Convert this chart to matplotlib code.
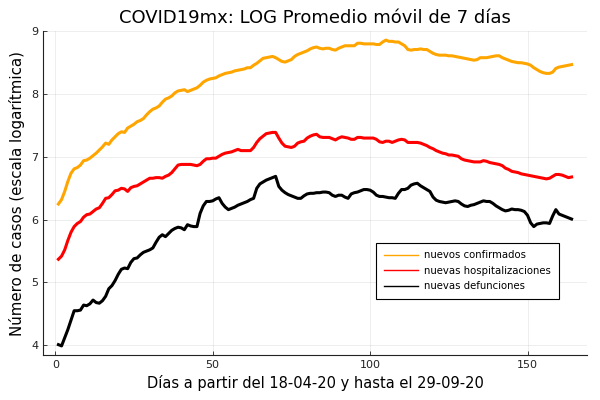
import matplotlib
matplotlib.use("Agg")
import matplotlib.pyplot as plt
from matplotlib.lines import Line2D

dias = list(range(1, 165))

confirmados = [
    6.25, 6.32, 6.45, 6.61, 6.74, 6.81, 6.83, 6.87, 6.94, 6.95,
    6.98, 7.02, 7.06, 7.11, 7.16, 7.22, 7.20, 7.27, 7.32, 7.37,
    7.40, 7.39, 7.46, 7.49, 7.52, 7.56, 7.58, 7.61, 7.67, 7.72,
    7.76, 7.78, 7.81, 7.87, 7.92, 7.94, 7.97, 8.02, 8.05, 8.06,
    8.07, 8.04, 8.06, 8.08, 8.10, 8.14, 8.19, 8.22, 8.24, 8.25,
    8.26, 8.29, 8.31, 8.33, 8.34, 8.35, 8.37, 8.38, 8.39, 8.40,
    8.42, 8.42, 8.46, 8.49, 8.53, 8.57, 8.58, 8.59, 8.60, 8.58,
    8.55, 8.52, 8.51, 8.53, 8.55, 8.60, 8.63, 8.65, 8.67, 8.69,
    8.72, 8.74, 8.75, 8.73, 8.72, 8.73, 8.73, 8.71, 8.70, 8.73,
    8.75, 8.77, 8.77, 8.77, 8.77, 8.81, 8.81, 8.80, 8.80, 8.80,
    8.80, 8.79, 8.79, 8.83, 8.86, 8.84, 8.84, 8.83, 8.83, 8.80,
    8.77, 8.71, 8.70, 8.71, 8.71, 8.72, 8.71, 8.71, 8.68, 8.65,
    8.63, 8.62, 8.62, 8.62, 8.61, 8.61, 8.60, 8.59, 8.58, 8.57,
    8.56, 8.55, 8.54, 8.55, 8.58, 8.58, 8.58, 8.59, 8.60, 8.61,
    8.61, 8.58, 8.56, 8.54, 8.52, 8.51, 8.50, 8.50, 8.49, 8.48,
    8.46, 8.42, 8.39, 8.36, 8.34, 8.33, 8.33, 8.35, 8.41, 8.43,
    8.44, 8.45, 8.46, 8.47,
]

hospitalizaciones = [
    5.37, 5.42, 5.52, 5.67, 5.80, 5.89, 5.94, 5.97, 6.04, 6.08,
    6.09, 6.13, 6.17, 6.19, 6.26, 6.34, 6.35, 6.40, 6.46, 6.47,
    6.50, 6.49, 6.45, 6.51, 6.53, 6.54, 6.57, 6.60, 6.63, 6.66,
    6.66, 6.67, 6.67, 6.66, 6.69, 6.71, 6.75, 6.81, 6.87, 6.88,
    6.88, 6.88, 6.88, 6.87, 6.86, 6.88, 6.93, 6.97, 6.97, 6.98,
    6.98, 7.01, 7.04, 7.06, 7.07, 7.08, 7.10, 7.12, 7.10, 7.10,
    7.10, 7.10, 7.15, 7.23, 7.29, 7.33, 7.37, 7.38, 7.39, 7.39,
    7.30, 7.22, 7.17, 7.16, 7.15, 7.17, 7.22, 7.24, 7.25, 7.30,
    7.33, 7.35, 7.36, 7.32, 7.31, 7.31, 7.31, 7.29, 7.27, 7.30,
    7.32, 7.31, 7.30, 7.28, 7.28, 7.31, 7.31, 7.30, 7.30, 7.30,
    7.30, 7.28, 7.24, 7.23, 7.25, 7.25, 7.23, 7.25, 7.27, 7.28,
    7.27, 7.23, 7.23, 7.23, 7.23, 7.22, 7.20, 7.18, 7.15, 7.13,
    7.10, 7.08, 7.06, 7.05, 7.03, 7.03, 7.02, 7.01, 6.97, 6.95,
    6.94, 6.93, 6.92, 6.92, 6.92, 6.94, 6.93, 6.91, 6.90, 6.89,
    6.88, 6.86, 6.82, 6.80, 6.77, 6.76, 6.75, 6.73, 6.72, 6.71,
    6.70, 6.69, 6.68, 6.67, 6.66, 6.65, 6.66, 6.69, 6.72, 6.72,
    6.71, 6.69, 6.67, 6.68,
]

defunciones = [
    4.01, 3.99, 4.12, 4.25, 4.40, 4.55, 4.55, 4.56, 4.64, 4.63,
    4.66, 4.72, 4.68, 4.67, 4.71, 4.78, 4.90, 4.95, 5.03, 5.13,
    5.21, 5.23, 5.22, 5.32, 5.38, 5.39, 5.44, 5.48, 5.50, 5.52,
    5.55, 5.64, 5.72, 5.76, 5.73, 5.78, 5.83, 5.86, 5.88, 5.87,
    5.84, 5.92, 5.90, 5.89, 5.89, 6.10, 6.22, 6.29, 6.29, 6.30,
    6.33, 6.35, 6.26, 6.20, 6.16, 6.18, 6.20, 6.23, 6.25, 6.27,
    6.29, 6.32, 6.34, 6.50, 6.57, 6.60, 6.63, 6.65, 6.67, 6.69,
    6.53, 6.47, 6.43, 6.40, 6.38, 6.36, 6.34, 6.34, 6.38, 6.41,
    6.42, 6.42, 6.43, 6.43, 6.44, 6.44, 6.43, 6.39, 6.37, 6.39,
    6.39, 6.36, 6.34, 6.41, 6.43, 6.44, 6.46, 6.48, 6.48, 6.47,
    6.44, 6.39, 6.37, 6.37, 6.36, 6.35, 6.35, 6.34, 6.42, 6.48,
    6.48, 6.50, 6.55, 6.57, 6.58, 6.54, 6.51, 6.48, 6.45, 6.36,
    6.31, 6.29, 6.28, 6.27, 6.28, 6.29, 6.30, 6.29, 6.25, 6.22,
    6.21, 6.23, 6.24, 6.26, 6.28, 6.30, 6.29, 6.29, 6.26, 6.22,
    6.19, 6.16, 6.14, 6.15, 6.17, 6.16, 6.16, 6.15, 6.13, 6.07,
    5.95, 5.89, 5.93, 5.94, 5.95, 5.95, 5.94, 6.06, 6.16, 6.09,
    6.07, 6.05, 6.03, 6.01,
]

series_labels = ["nuevos confirmados", "nuevas hospitalizaciones", "nuevas defunciones"]
series_colors = ["#FFA500", "#FF0000", "#000000"]
xticks = [0, 50, 100, 150]
yticks = [4, 5, 6, 7, 8, 9]

fig = plt.figure(figsize=(6, 4), dpi=100)
ax = fig.add_axes([0.0717, 0.1125, 0.9066, 0.81])

for ys, c in zip([confirmados, hospitalizaciones, defunciones], series_colors):
    ax.plot(dias, ys, color=c, linewidth=2.2, solid_joinstyle="round")

ax.set_xlim(1 - 4.89, 164 + 4.89)
ax.set_ylim(3.845, 9.005)
ax.set_xticks(xticks)
ax.set_yticks(yticks)
ax.grid(True, color="#000000", alpha=0.08, linewidth=0.6)
for s in ["top", "right"]:
    ax.spines[s].set_visible(False)
for s in ["left", "bottom"]:
    ax.spines[s].set_color("#222222")
    ax.spines[s].set_linewidth(0.8)
ax.tick_params(direction="in", length=3, width=0.6, labelsize=8,
               colors="#222222", labelcolor="#222222")

ax.set_title("COVID19mx: LOG Promedio móvil de 7 días", fontsize=13, pad=6)
ax.set_xlabel("Días a partir del 18-04-20 y hasta el 29-09-20", fontsize=10.5, labelpad=4)
ax.set_ylabel("Número de casos (escala logarítmica)", fontsize=10.8, labelpad=4)

handles = [Line2D([0], [0], color=c, linewidth=1.0) for c in series_colors]
leg = ax.legend(handles, series_labels, loc="upper left",
                bbox_to_anchor=(0.612, 0.347), borderaxespad=0,
                fancybox=False, edgecolor="#000000", framealpha=1,
                fontsize=7.3, handlelength=3.4, handletextpad=0.6,
                labelspacing=0.55, borderpad=0.75)
leg.get_frame().set_linewidth(0.8)

fig.savefig("out.png", dpi=100)
